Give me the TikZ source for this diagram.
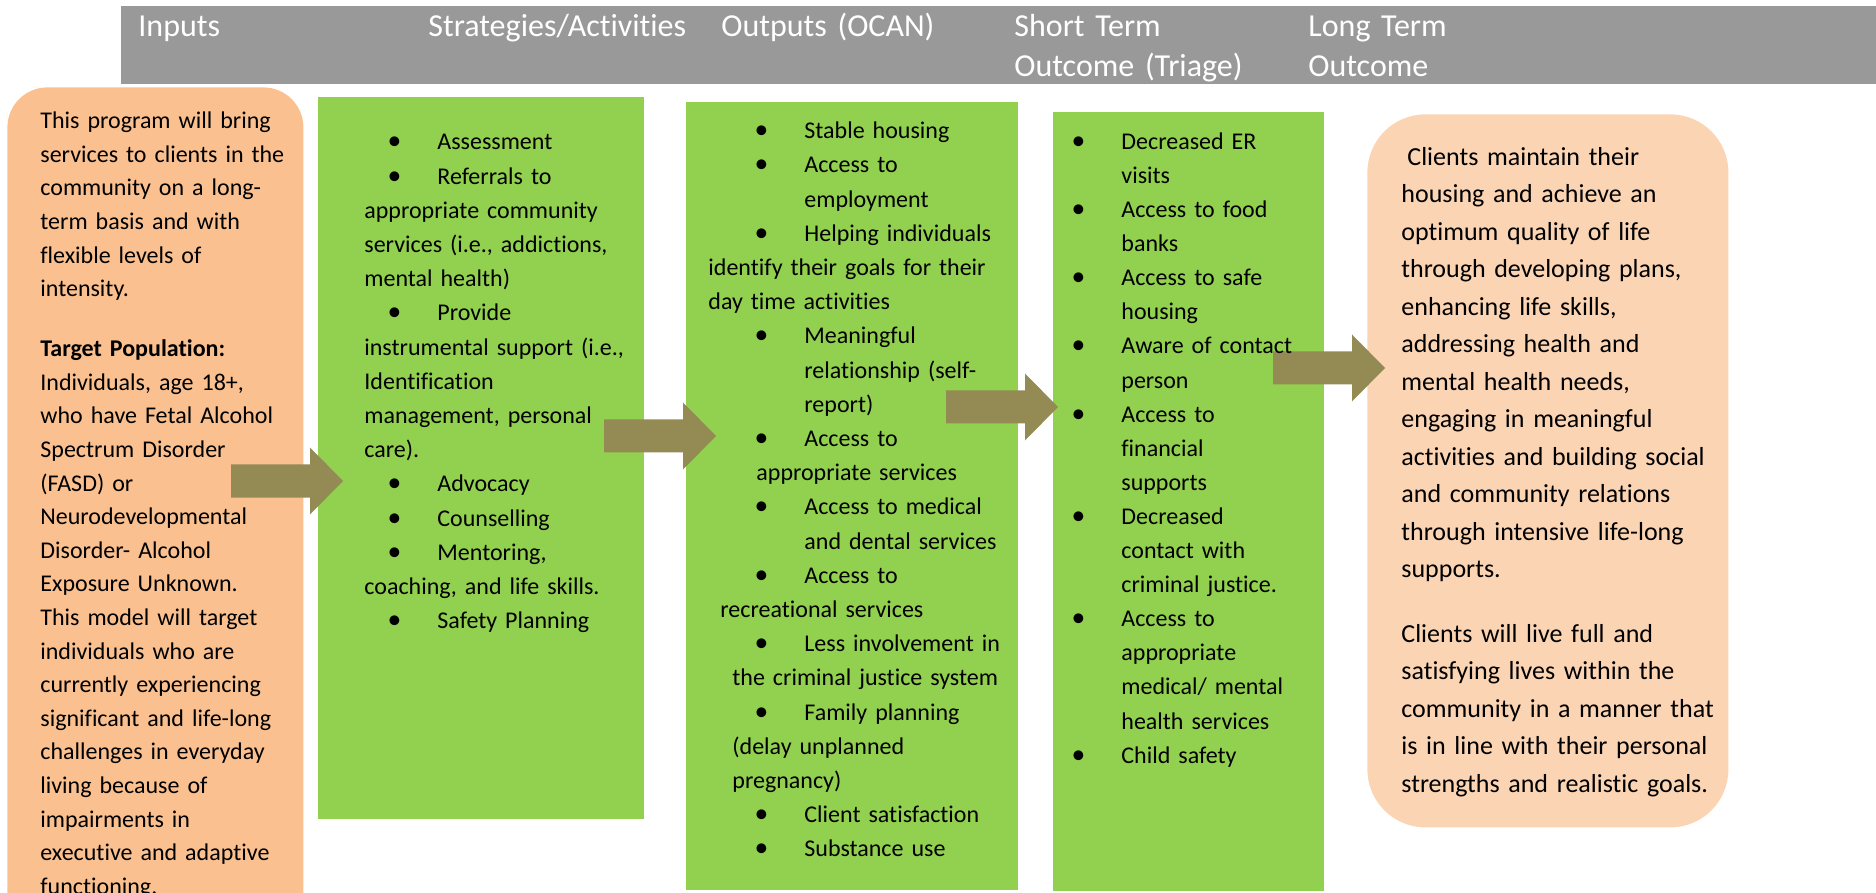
\documentclass[tikz,border=0pt]{standalone}
\usepackage{fontspec}
\setmainfont{Carlito}[Ligatures=NoCommon]
\usepackage{graphicx}

\definecolor{hdrgray}{HTML}{999999}
\definecolor{inputfill}{HTML}{FAC08F}
\definecolor{outcomefill}{HTML}{FBD4B4}
\definecolor{boxgreen}{HTML}{92D050}
\definecolor{arrowolive}{HTML}{948A54}

% bullet placed with its centre #1 from the line start, text #2 after it
\newcommand{\bulletmark}{\scalebox{1.15}{\textbullet}}
\newcommand{\bitem}[2]{\hspace*{#1}\makebox[0pt]{\bulletmark}\hspace*{#2}\ignorespaces}
\newcommand{\indentby}[1]{\hspace*{#1}\ignorespaces}

% block arrow: shaft starts at x=#1, centre line at y=#2
\newcommand{\blockarrow}[2]{%
  \fill[arrowolive] (#1,#2-16.5) -- ++(79,0) -- ++(0,-17) -- ++(33,33.5)
    -- ++(-33,33.5) -- ++(0,-17) -- ++(-79,0) -- cycle;}

\tikzset{
  panel/.style={anchor=north west, inner sep=0pt, draw=none},
  hdrtext/.style={anchor=north west, inner sep=0pt, text=white, align=left,
    text width=200pt, font=\fontsize{16pt}{20pt}\selectfont},
  bodytext/.style={anchor=north west, inner sep=0pt, align=left,
    text width=200pt, font=\fontsize{12pt}{#1}\selectfont},
  bigtext/.style={anchor=north west, inner sep=0pt, align=left,
    text width=200pt, font=\fontsize{13pt}{18.75pt}\selectfont},
}

\begin{document}
\begin{tikzpicture}[x=0.5pt,y=-0.5pt]
\useasboundingbox (0,0) rectangle (1876,893);

% header band
\node[panel, fill=hdrgray, minimum width=877.5pt, minimum height=39pt] (bar) at (121,6) {};

% column panels
\node[panel, fill=inputfill, rounded corners=20pt, minimum width=148pt, minimum height=440pt] (inputs) at (7,87) {};
\node[panel, fill=boxgreen, minimum width=163pt, minimum height=361pt] (strat) at (318,97) {};
\node[panel, fill=boxgreen, minimum width=166pt, minimum height=394pt] (outputs) at (686,102) {};
\node[panel, fill=boxgreen, minimum width=135.5pt, minimum height=389.5pt] (short) at (1053,112) {};
\node[panel, fill=outcomefill, rounded corners=29pt, minimum width=180.5pt, minimum height=356.5pt] (long) at (1367,114) {};

% arrows between the columns
\blockarrow{231}{481}
\blockarrow{604}{436}
\blockarrow{946}{407}
\blockarrow{1273}{368}

% header labels
\node[hdrtext] (hInputs) at (138,8) {\strut Inputs};
\node[hdrtext] (hStrat) at (428,8) {\strut Strategies/Activities};
\node[hdrtext] (hOut) at (721,8) {\strut Outputs (OCAN)};
\node[hdrtext] (hShort) at (1014,8) {\strut Short Term\\Outcome (Triage)};
\node[hdrtext] (hLong) at (1308,8) {\strut Long Term\\Outcome};

% inputs text
\node[bodytext=16.8pt] (tInputs) at (40,104.8) {\strut This program will bring\\
services to clients in the\\
community on a long-\\
term basis and with\\
flexible levels of\\
intensity.\\[13.2pt]
\textbf{Target Population:}\\
Individuals, age 18+,\\
who have Fetal Alcohol\\
Spectrum Disorder\\
(FASD) or\\
Neurodevelopmental\\
Disorder- Alcohol\\
Exposure Unknown.\\
This model will target\\
individuals who are\\
currently experiencing\\
significant and life-long\\
challenges in everyday\\
living because of\\
impairments in\\
executive and adaptive\\
functioning.};

% strategies text
\node[bodytext=17.1pt] (tStrat) at (364,125.6) {\strut\bitem{15pt}{21.5pt}Assessment\\
\bitem{15pt}{21.5pt}Referrals to\\
appropriate community\\
services (i.e., addictions,\\
mental health)\\
\bitem{15pt}{21.5pt}Provide\\
instrumental support (i.e.,\\
Identification\\
management, personal\\
care).\\
\bitem{15pt}{21.5pt}Advocacy\\
\bitem{15pt}{21.5pt}Counselling\\
\bitem{15pt}{21.5pt}Mentoring,\\
coaching, and life skills.\\
\bitem{15pt}{21.5pt}Safety Planning};

% outputs text
\node[bodytext=17.1pt] (tOut) at (708,114.4) {\strut\bitem{26.5pt}{21.5pt}Stable housing\\
\bitem{26.5pt}{21.5pt}Access to\\
\indentby{48pt}employment\\
\bitem{26.5pt}{21.5pt}Helping individuals\\
identify their goals for their\\
day time activities\\
\bitem{26.5pt}{21.5pt}Meaningful\\
\indentby{48pt}relationship (self-\\
\indentby{48pt}report)\\
\bitem{26.5pt}{21.5pt}Access to\\
\indentby{24pt}appropriate services\\
\bitem{26.5pt}{21.5pt}Access to medical\\
\indentby{48pt}and dental services\\
\bitem{26.5pt}{21.5pt}Access to\\
\indentby{6pt}recreational services\\
\bitem{26.5pt}{21.5pt}Less involvement in\\
\indentby{12pt}the criminal justice system\\
\bitem{26.5pt}{21.5pt}Family planning\\
\indentby{12pt}(delay unplanned\\
\indentby{12pt}pregnancy)\\
\bitem{26.5pt}{21.5pt}Client satisfaction\\
\bitem{26.5pt}{21.5pt}Substance use};

% short term outcome text
\node[bodytext=17.05pt] (tShort) at (1060,125.1) {\strut\bitem{9pt}{21.5pt}Decreased ER\\
\indentby{30.5pt}visits\\
\bitem{9pt}{21.5pt}Access to food\\
\indentby{30.5pt}banks\\
\bitem{9pt}{21.5pt}Access to safe\\
\indentby{30.5pt}housing\\
\bitem{9pt}{21.5pt}Aware of contact\\
\indentby{30.5pt}person\\
\bitem{9pt}{21.5pt}Access to\\
\indentby{30.5pt}financial\\
\indentby{30.5pt}supports\\
\bitem{9pt}{21.5pt}Decreased\\
\indentby{30.5pt}contact with\\
\indentby{30.5pt}criminal justice.\\
\bitem{9pt}{21.5pt}Access to\\
\indentby{30.5pt}appropriate\\
\indentby{30.5pt}medical/ mental\\
\indentby{30.5pt}health services\\
\bitem{9pt}{21.5pt}Child safety};

% long term outcome text
\node[bigtext] (tLong) at (1401,138.75) {\strut\indentby{3pt}Clients maintain their\\
housing and achieve an\\
optimum quality of life\\
through developing plans,\\
enhancing life skills,\\
addressing health and\\
mental health needs,\\
engaging in meaningful\\
activities and building social\\
and community relations\\
through intensive life-long\\
supports.\\[13.35pt]
Clients will live full and\\
satisfying lives within the\\
community in a manner that\\
is in line with their personal\\
strengths and realistic goals.};
\end{tikzpicture}
\end{document}
